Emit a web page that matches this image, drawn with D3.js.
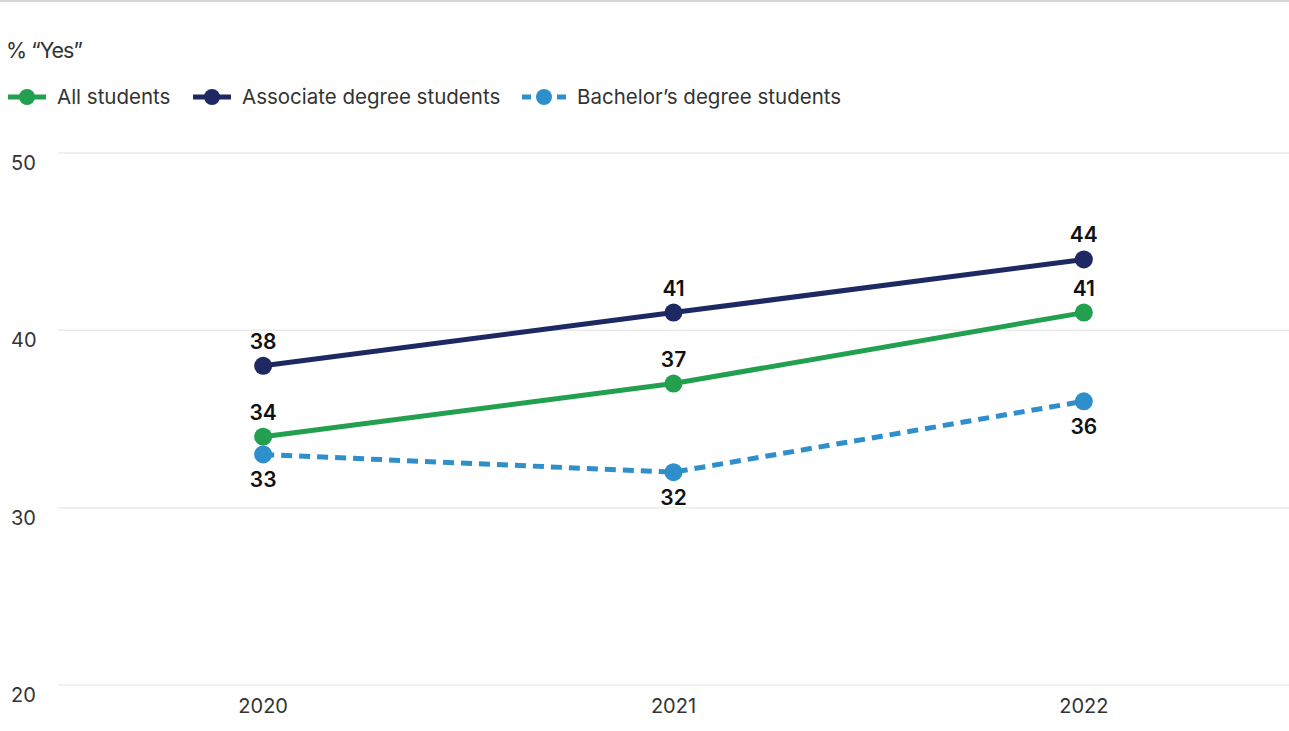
<!DOCTYPE html>
<html>
<head>
<meta charset="utf-8">
<script src="https://cdn.jsdelivr.net/npm/d3@7"></script>
<style>
  body { margin: 0; background: #fff; }
  svg { display: block; font-family: Inter, "Noto Sans", sans-serif; }
</style>
</head>
<body>
<svg id="chart" width="1289" height="731"></svg>
<script>
var years = ["2020", "2021", "2022"];
var yTicks = [20, 30, 40, 50];
var allStudents = [34, 37, 41];
var associate = [38, 41, 44];
var bachelor = [33, 32, 36];

var series = [
  {name: "All students", values: allStudents, color: "#22a04f", dash: null, label: "above"},
  {name: "Associate degree students", values: associate, color: "#1e2862", dash: null, label: "above"},
  {name: "Bachelor\u2019s degree students", values: bachelor, color: "#2e8fca", dash: "11,7", label: "below"}
];

var width = 1289, height = 731;
var svg = d3.select("#chart");

// top border
svg.append("line")
    .attr("x1", 0).attr("x2", width)
    .attr("y1", 1).attr("y2", 1)
    .attr("stroke", "#d6d6d6")
    .attr("stroke-width", 2);

var x = d3.scalePoint().domain(years).range([58, 1289]).padding(0.5);
var y = d3.scaleLinear().domain([20, 50]).range([685, 153]);

// gridlines + y labels
var grid = svg.append("g");
grid.selectAll("line").data(yTicks).enter().append("line")
    .attr("x1", 58).attr("x2", width)
    .attr("y1", function(d) { return y(d); })
    .attr("y2", function(d) { return y(d); })
    .attr("stroke", "#ebebeb")
    .attr("stroke-width", 1.5);
grid.selectAll("text").data(yTicks).enter().append("text")
    .attr("x", 11)
    .attr("y", function(d) { return y(d) + 17; })
    .attr("font-size", 20)
    .attr("fill", "#333")
    .text(function(d) { return d; });

// x labels
svg.append("g").selectAll("text").data(years).enter().append("text")
    .attr("x", function(d) { return x(d); })
    .attr("y", 713)
    .attr("text-anchor", "middle")
    .attr("font-size", 20)
    .attr("fill", "#333")
    .text(function(d) { return d; });

// title
svg.append("text")
    .attr("x", 6).attr("y", 58)
    .attr("font-size", 21.5)
    .attr("letter-spacing", -1)
    .attr("fill", "#333")
    .text("% \u201cYes\u201d");

// legend
var legendX = [8, 193, 522];
var legend = svg.append("g").selectAll("g").data(series).enter().append("g")
    .attr("transform", function(d, i) { return "translate(" + legendX[i] + ",97)"; });
legend.append("line")
    .attr("x1", 0).attr("x2", function(d) { return d.dash ? 44 : 38; })
    .attr("stroke", function(d) { return d.color; })
    .attr("stroke-width", 5)
    .attr("stroke-dasharray", function(d) { return d.dash ? "9,26" : null; });
legend.append("circle")
    .attr("cx", function(d) { return d.dash ? 22 : 19; })
    .attr("r", 8)
    .attr("fill", function(d) { return d.color; });
legend.append("text")
    .attr("x", function(d) { return d.dash ? 55 : 49; })
    .attr("y", 7)
    .attr("font-size", 20.5)
    .attr("fill", "#333")
    .text(function(d) { return d.name; });

// lines
var line = d3.line()
    .x(function(d, i) { return x(years[i]); })
    .y(function(d) { return y(d); });

var groups = svg.append("g").selectAll("g").data(series).enter().append("g");
groups.append("path")
    .attr("d", function(d) { return line(d.values); })
    .attr("fill", "none")
    .attr("stroke", function(d) { return d.color; })
    .attr("stroke-width", 5)
    .attr("stroke-dasharray", function(d) { return d.dash; });

groups.each(function(s) {
  var g = d3.select(this);
  g.selectAll("circle").data(s.values).enter().append("circle")
      .attr("cx", function(d, i) { return x(years[i]); })
      .attr("cy", function(d) { return y(d); })
      .attr("r", 9)
      .attr("fill", s.color);
  g.selectAll("text").data(s.values).enter().append("text")
      .attr("x", function(d, i) { return x(years[i]); })
      .attr("y", function(d) { return s.label == "above" ? y(d) - 17 : y(d) + 33; })
      .attr("text-anchor", "middle")
      .attr("font-size", 21)
      .attr("font-weight", 600)
      .attr("fill", "#111")
      .text(function(d) { return d; });
});
</script>
</body>
</html>
